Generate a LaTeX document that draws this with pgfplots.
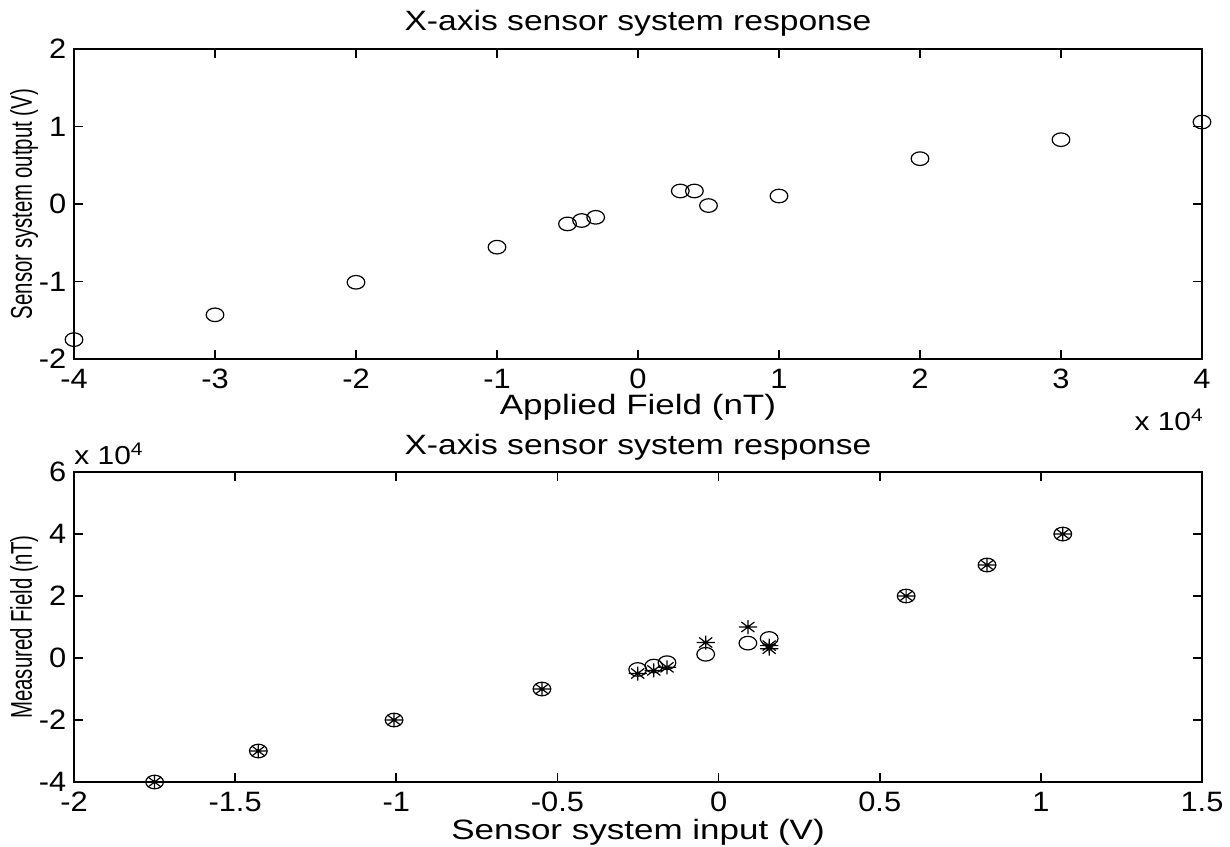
\documentclass[border=0pt]{standalone}
\usepackage{pgfplots}
\pgfplotsset{compat=1.18}
\usepackage{fontspec}
\setmainfont{Liberation Sans}

% MATLAB style asterisk: a plus and a cross on top of each other
\pgfdeclareplotmark{mstar}{%
  \pgfpathmoveto{\pgfqpoint{-\pgfplotmarksize}{0pt}}\pgfpathlineto{\pgfqpoint{\pgfplotmarksize}{0pt}}%
  \pgfpathmoveto{\pgfqpoint{0pt}{-\pgfplotmarksize}}\pgfpathlineto{\pgfqpoint{0pt}{\pgfplotmarksize}}%
  \pgfpathmoveto{\pgfqpoint{-0.72\pgfplotmarksize}{-0.72\pgfplotmarksize}}\pgfpathlineto{\pgfqpoint{0.72\pgfplotmarksize}{0.72\pgfplotmarksize}}%
  \pgfpathmoveto{\pgfqpoint{-0.72\pgfplotmarksize}{0.72\pgfplotmarksize}}\pgfpathlineto{\pgfqpoint{0.72\pgfplotmarksize}{-0.72\pgfplotmarksize}}%
  \pgfusepathqstroke}

\pgfplotsset{
  mlab/.style={
    scale only axis, width=564pt, height=155pt,
    axis line style={line width=0.8pt},
    every tick/.style={line width=0.8pt, black},
    tick align=inside, major tick length=4.5pt,
    ticklabel style={font=\fontsize{14}{16}\selectfont, xscale=1.1},
    /pgf/number format/assume math mode=true,
    every x tick label/.append style={anchor=base, yshift=-14.5pt},
    scaled x ticks=false, scaled y ticks=false,
    clip=false,
    title style={font=\fontsize{14}{16}\selectfont, xscale=1.2, at={(0.5,1)}, anchor=base},
    every axis x label/.style={font=\fontsize{14}{16}\selectfont, xscale=1.25, at={(0.5,0)}, anchor=base},
    every axis y label/.style={font=\fontsize{10}{12}\selectfont, at={(0,0.5)}, xshift=-25pt, rotate=90, anchor=center},
  },
  circ/.style={only marks, mark=o, mark size=3.4pt, black, mark options={line width=0.6pt, xscale=1.3}},
  star/.style={only marks, mark=mstar, mark size=3.5pt, black, mark options={line width=0.6pt, xscale=1.3}},
}

\begin{document}
\begin{tikzpicture}
\useasboundingbox (-37pt,-243.5pt) rectangle (578pt,179.5pt);

% top: applied field (nT) vs sensor output (V)
\begin{axis}[mlab,
    title={X-axis sensor system response}, title style={yshift=3.5pt},
    xlabel={Applied Field (nT)}, xlabel style={yshift=-27.5pt},
    ylabel={\scalebox{1.02}[1.5]{Sensor system output (V)}},
    xmin=-40000, xmax=40000, ymin=-2, ymax=2,
    xtick={-40000,-30000,-20000,-10000,0,10000,20000,30000,40000},
    xticklabels={-4,-3,-2,-1,0,1,2,3,4},
    ytick={-2,-1,0,1,2},
]
\addplot[circ] coordinates {
  (-40000,-1.75) (-30000,-1.43) (-20000,-1.01) (-10000,-0.557)
  (-5000,-0.257) (-4000,-0.213) (-3000,-0.172)
  (3000,0.168) (4000,0.168) (5000,-0.02)
  (10000,0.103) (20000,0.585) (30000,0.83) (40000,1.058)
};
\node[anchor=base east, inner sep=0pt, font=\fontsize{13}{15}\selectfont, xscale=1.15]
  at (rel axis cs:1,0) [yshift=-35.5pt, xshift=1pt] {x 10\textsuperscript{4}};
\end{axis}

% bottom: sensor input (V) vs measured field (nT)
\begin{axis}[mlab, at={(0,-211.5pt)},
    title={X-axis sensor system response}, title style={yshift=3pt},
    xlabel={Sensor system input (V)}, xlabel style={yshift=-28.5pt},
    ylabel={\scalebox{1.02}[1.5]{Measured Field (nT)}},
    xmin=-2, xmax=1.5, ymin=-40000, ymax=60000,
    xtick={-2,-1.5,...,1.5},
    ytick={-40000,-20000,0,20000,40000,60000},
    yticklabels={-4,-2,0,2,4,6},
]
\addplot[circ] coordinates {
  (-1.75,-40000) (-1.428,-30000) (-1.007,-20000) (-0.548,-10000)
  (-0.251,-3700) (-0.201,-2600) (-0.160,-1500)
  (-0.04,1200) (0.091,4800) (0.157,6300)
  (0.582,20000) (0.833,30000) (1.068,40000)
};
\addplot[star] coordinates {
  (-1.75,-40000) (-1.428,-30000) (-1.007,-20000) (-0.548,-10000)
  (-0.251,-5000) (-0.201,-4000) (-0.160,-3000)
  (-0.04,5000) (0.091,10000) (0.157,3000) (0.157,4000)
  (0.582,20000) (0.833,30000) (1.068,40000)
};
\node[anchor=base west, inner sep=0pt, font=\fontsize{13}{15}\selectfont, xscale=1.15]
  at (rel axis cs:0,1) [yshift=4pt] {x 10\textsuperscript{4}};
\end{axis}
\end{tikzpicture}
\end{document}
